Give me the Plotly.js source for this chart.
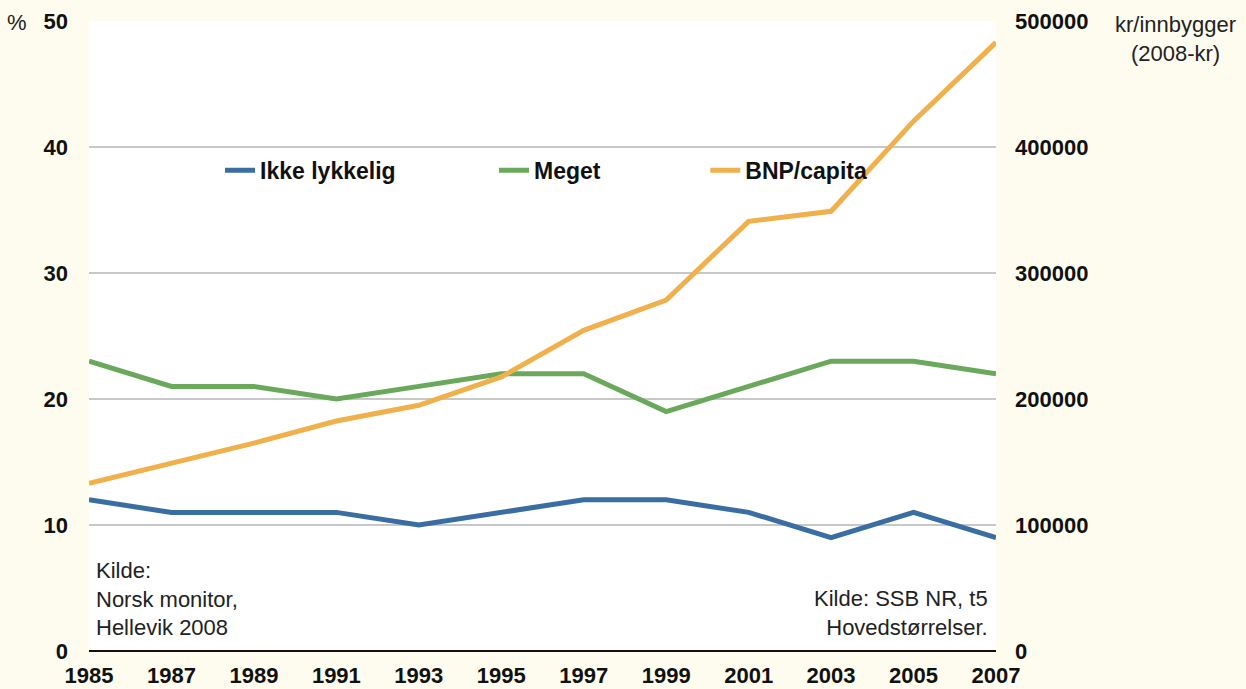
<!DOCTYPE html>
<html>
<head>
<meta charset="utf-8">
<script src="https://cdn.plot.ly/plotly-3.0.1.min.js"></script>
<style>html,body{margin:0;padding:0;background:#fefcef;}#chart{width:1246px;height:689px;}</style>
</head>
<body>
<div id="chart"></div>
<script>
const years = [1985, 1987, 1989, 1991, 1993, 1995, 1997, 1999, 2001, 2003, 2005, 2007];
const ikkeLykkelig = [12, 11, 11, 11, 10, 11, 12, 12, 11, 9, 11, 9];
const meget = [23, 21, 21, 20, 21, 22, 22, 19, 21, 23, 23, 22];
const bnpCapita = [133000, 149000, 165000, 182500, 195000, 217500, 254500, 278500, 341000, 349000, 420500, 483000];
const seriesNames = ['Ikke lykkelig', 'Meget', 'BNP/capita'];
const xTicks = [1985, 1987, 1989, 1991, 1993, 1995, 1997, 1999, 2001, 2003, 2005, 2007];

const FONT = 'Liberation Sans, Arial, Helvetica, sans-serif';
const tickFont = {family: FONT, size: 22, color: '#111', weight: 'bold'};
const legFont = {family: FONT, size: 23, color: '#111', weight: 'bold'};

const traces = [
  {x: years, y: ikkeLykkelig, name: seriesNames[0], type: 'scatter', mode: 'lines',
   line: {color: '#3a6da2', width: 5}, legend: 'legend'},
  {x: years, y: meget, name: seriesNames[1], type: 'scatter', mode: 'lines',
   line: {color: '#6aa85b', width: 5}, legend: 'legend2'},
  {x: years, y: bnpCapita, name: seriesNames[2], type: 'scatter', mode: 'lines', yaxis: 'y2',
   line: {color: '#f0b04b', width: 5}, legend: 'legend3'}
];

const legBase = {orientation: 'h', bgcolor: 'rgba(0,0,0,0)', font: legFont, yanchor: 'middle', xanchor: 'left', y: 0.763, itemwidth: 30};

const layout = {
  width: 1246, height: 689,
  paper_bgcolor: '#fefcef', plot_bgcolor: '#ffffff',
  margin: {l: 89, r: 250, t: 21, b: 38},
  showlegend: true,
  legend: Object.assign({}, legBase, {x: 0.1445}),
  legend2: Object.assign({}, legBase, {x: 0.4465}),
  legend3: Object.assign({}, legBase, {x: 0.6795}),
  xaxis: {
    range: [1985, 2007], tickmode: 'array', tickvals: xTicks, ticktext: xTicks.map(String),
    showgrid: false, zeroline: false, showline: false, ticks: '',
    tickfont: tickFont, ticklabelstandoff: 9, fixedrange: true
  },
  yaxis: {
    range: [0, 50], dtick: 10, tick0: 0, showgrid: true, gridcolor: '#c8c8c8', gridwidth: 1.5,
    zeroline: true, zerolinecolor: '#111', zerolinewidth: 1.5, showline: false, ticks: '',
    tickfont: tickFont, ticklabelstandoff: 20
  },
  yaxis2: {
    range: [0, 500000], dtick: 100000, tick0: 0, overlaying: 'y', side: 'right',
    showgrid: false, zeroline: false, showline: false, ticks: '', tickformat: 'd',
    tickfont: tickFont, ticklabelstandoff: 18
  },
  annotations: [
    {xref: 'paper', yref: 'paper', x: 0.0055, y: 0.014, xanchor: 'left', yanchor: 'bottom', align: 'left',
     text: 'Kilde:<br>Norsk monitor,<br>Hellevik 2008', showarrow: false,
     font: {family: FONT, size: 22, color: '#222'}},
    {xref: 'paper', yref: 'paper', x: 0.9934, y: 0.014, xanchor: 'right', yanchor: 'bottom', align: 'right',
     text: 'Kilde: SSB NR, t5<br>Hovedstørrelser.', showarrow: false,
     font: {family: FONT, size: 22, color: '#222'}},
    {xref: 'paper', yref: 'paper', x: 1.198, y: 1.018, xanchor: 'center', yanchor: 'top', align: 'center',
     text: 'kr/innbygger<br>(2008-kr)', showarrow: false,
     font: {family: FONT, size: 22, color: '#222'}},
    {xref: 'paper', yref: 'paper', x: -0.079, y: 0.998, xanchor: 'center', yanchor: 'middle',
     text: '%', showarrow: false, font: {family: FONT, size: 22, color: '#222'}}
  ]
};

Plotly.newPlot('chart', traces, layout, {displayModeBar: false, staticPlot: true});
</script>
</body>
</html>
